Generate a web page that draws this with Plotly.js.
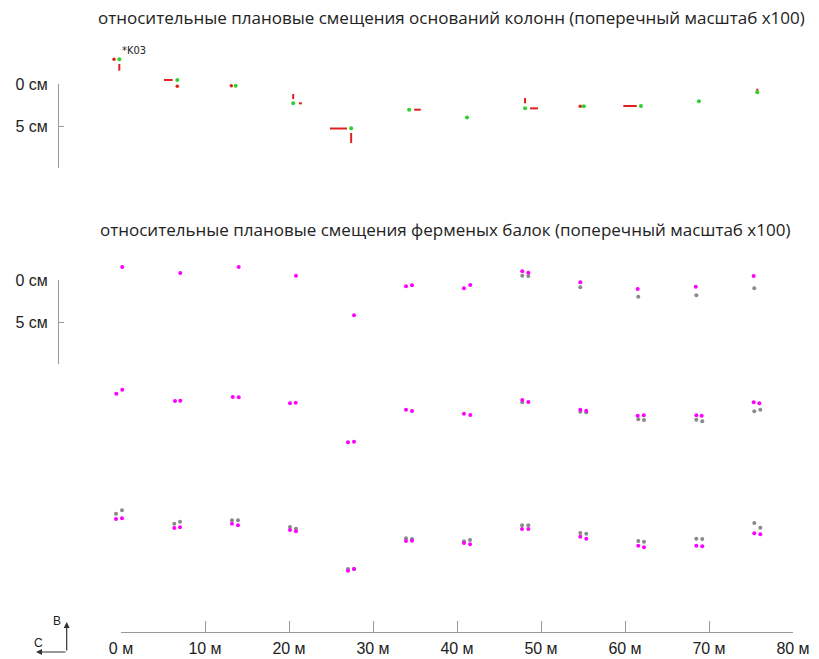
<!DOCTYPE html>
<html><head><meta charset="utf-8">
<script src="https://cdn.plot.ly/plotly-3.0.1.min.js"></script>
<style>html,body{margin:0;padding:0;background:#fff}#c{width:819px;height:659px}</style>
</head><body><div id="c"></div>
<script>
// ---- data (x in m, y in cm; beam rows relative to their own baseline) ----
const colX = [-0.2, 6.7, 13.65, 20.5, 27.4, 34.3, 41.2, 48.1, 55.1, 61.9, 68.8, 75.75];
const colY = [-2.94, -0.48, 0.2, 2.3, 5.27, 3.06, 4.0, 2.9, 2.65, 2.62, 2.06, 0.99];
const colLabel = '*K03';
// red displacement segments (absolute, x m / y cm)
const redSegX0 = [-0.2, 5.12, 20.5, 21.18, 24.88, 27.4, 34.9, 48.1, 48.7, 59.8, 75.75];
const redSegX1 = [-0.2, 6.15, 20.5, 21.54, 26.9, 27.4, 35.69, 48.1, 49.65, 61.4, 75.75];
const redSegY0 = [-2.38, -0.48, 1.19, 2.3, 5.3, 5.83, 3.06, 1.67, 2.9, 2.62, 0.56];
const redSegY1 = [-1.58, -0.48, 1.8, 2.3, 5.3, 7.02, 3.06, 2.3, 2.9, 2.62, 0.95];
const redDotX = [-0.83, 6.7, 13.13, 54.67];
const redDotY = [-2.94, 0.27, 0.2, 2.65];

const row1X = [0.15, 7.06, 14.01, 20.83, 27.74, 33.93, 34.64, 40.83, 41.58, 47.77, 48.49, 54.68, 61.51, 68.42, 75.32];
const row1Y = [-1.55, -0.83, -1.55, -0.51, 4.20, 0.75, 0.63, 0.99, 0.60, -1.04, -0.87, 0.27, 1.07, 0.80, -0.48];
const row1GX = [47.77, 48.49, 54.68, 61.58, 68.49, 75.39];
const row1GY = [-0.51, -0.48, 0.87, 1.99, 1.82, 0.99];

const row2X = [-0.56, 0.155, 6.43, 7.06, 13.30, 14.01, 20.12, 20.80, 27.02, 27.74, 33.93, 34.64, 40.83, 41.58, 47.77, 48.49, 54.68, 55.39, 61.51, 62.23, 68.49, 69.13, 75.32, 75.99];
const row2Y = [-1.46, -1.94, -0.60, -0.63, -1.07, -1.04, -0.32, -0.39, 4.32, 4.25, 0.44, 0.60, 0.92, 1.07, -0.71, -0.48, 0.44, 0.56, 1.15, 1.11, 1.11, 1.15, -0.44, -0.32];
const row2GX = [47.77, 54.68, 55.39, 61.58, 62.26, 68.49, 69.20, 75.39, 76.11];
const row2GY = [-0.44, 0.68, 0.75, 1.58, 1.67, 1.63, 1.82, 0.63, 0.44];

const row3X = [-0.595, 0.119, 6.345, 7.024, 13.21, 13.93, 20.12, 20.83, 27.02, 27.74, 33.93, 34.64, 40.83, 41.55, 47.74, 48.49, 54.68, 55.39, 61.58, 62.26, 68.49, 69.20, 75.39, 76.11];
const row3Y = [-1.55, -1.63, -0.48, -0.56, -0.99, -0.80, -0.24, -0.08, 4.61, 4.40, 1.07, 1.04, 1.31, 1.46, -0.36, -0.36, 0.56, 0.80, 1.63, 1.82, 1.63, 1.70, 0.15, 0.27];
const row3GY = [-2.18, -2.58, -0.99, -1.23, -1.39, -1.39, -0.60, -0.39, 4.40, 4.40, 0.75, 0.83, 1.11, 0.95, -0.80, -0.80, 0.12, 0.20, 1.07, 1.15, 0.80, 0.83, -1.07, -0.51];

const xTicks = [0, 10, 20, 30, 40, 50, 60, 70, 80];
const xTickText = ['0 м', '10 м', '20 м', '30 м', '40 м', '50 м', '60 м', '70 м', '80 м'];
const yTicks = [0, 5];
const yTickText = ['0 см', '5 см'];
const title1 = 'относительные плановые смещения оснований колонн (поперечный масштаб x100)';
const title2 = 'относительные плановые смещения ферменых балок (поперечный масштаб x100)';

// ---- layout geometry ----
const W = 819, H = 659;
const X0PX = 121, PXM = 8.4, Y0PX = 84;
const rowOffset = [23.333, 38.333, 53.333];
const px = v => v / W, py = v => 1 - v / H;

const GREEN = '#2ed12e', RED = '#e0201e', MAG = '#ff00ff', GRAY = '#8a8a8a';
const off = (arr, o) => arr.map(v => v + o);

const segX = [], segY = [];
redSegX0.forEach((x, i) => { segX.push(x, redSegX1[i], null); segY.push(redSegY0[i], redSegY1[i], null); });

const traces = [
  {x: segX, y: segY, mode: 'lines', line: {color: RED, width: 2}},
  {x: redDotX, y: redDotY, mode: 'markers', marker: {color: RED, size: 3.5}},
  {x: colX, y: colY, mode: 'markers', marker: {color: GREEN, size: 4}},
  {x: row1GX, y: off(row1GY, rowOffset[0]), mode: 'markers', marker: {color: GRAY, size: 4}},
  {x: row2GX, y: off(row2GY, rowOffset[1]), mode: 'markers', marker: {color: GRAY, size: 4}},
  {x: row3X, y: off(row3GY, rowOffset[2]), mode: 'markers', marker: {color: GRAY, size: 4}},
  {x: row1X, y: off(row1Y, rowOffset[0]), mode: 'markers', marker: {color: MAG, size: 4}},
  {x: row2X, y: off(row2Y, rowOffset[1]), mode: 'markers', marker: {color: MAG, size: 4}},
  {x: row3X, y: off(row3Y, rowOffset[2]), mode: 'markers', marker: {color: MAG, size: 4}},
  {x: [null], y: [null], xaxis: 'x2', yaxis: 'y2', mode: 'markers'},
  {x: [null], y: [null], xaxis: 'x2', yaxis: 'y3', mode: 'markers'}
].map(t => Object.assign({showlegend: false, hoverinfo: 'skip', cliponaxis: false}, t));

const axFont = {family: 'Liberation Sans, Arial, sans-serif', size: 16, color: '#222'};
const yBar = (lo, hi) => ({
  domain: [py(hi), py(lo)], range: [10, 0], anchor: 'free', position: px(58), side: 'left',
  showline: true, linecolor: '#9a9a9a', linewidth: 1, ticks: 'inside', ticklen: 5, tickcolor: '#9a9a9a',
  tickmode: 'array', tickvals: yTicks, ticktext: yTickText, ticklabelstandoff: 7,
  showgrid: false, zeroline: false, tickfont: axFont, fixedrange: true
});
const txt = (x, y, text, size, family) => ({xref: 'paper', yref: 'paper', x: px(x), y: py(y), text: text,
  showarrow: false, xanchor: 'center', yanchor: 'middle', font: {family: family, size: size, color: '#222'}});

const layout = {
  width: W, height: H, margin: {l: 0, r: 0, t: 0, b: 0},
  paper_bgcolor: '#fff', plot_bgcolor: 'rgba(0,0,0,0)', showlegend: false,
  xaxis: {range: [-X0PX / PXM, (W - X0PX) / PXM], visible: false, fixedrange: true},
  yaxis: {range: [(H - Y0PX) / PXM, -Y0PX / PXM], visible: false, fixedrange: true},
  xaxis2: {domain: [px(X0PX), px(X0PX + 80 * PXM)], range: [0, 80], anchor: 'free', position: 1 - 632 / H,
    showline: true, linecolor: '#9a9a9a', linewidth: 1, ticks: 'inside', ticklen: 11, tickcolor: '#9a9a9a',
    tickmode: 'array', tickvals: xTicks, ticktext: xTickText, ticklabelstandoff: 2,
    showgrid: false, zeroline: false, tickfont: axFont, fixedrange: true},
  yaxis2: yBar(84, 168),
  yaxis3: yBar(280, 364),
  annotations: [
    txt(451, 18, title1, 17, 'Open Sans, sans-serif'),
    txt(445, 229, title2, 17, 'Open Sans, sans-serif'),
    {x: colX[0], y: colY[0], text: colLabel, showarrow: false, xanchor: 'left', yanchor: 'middle', xshift: 1, yshift: 9,
     font: {family: 'DejaVu Sans Condensed, Liberation Sans, sans-serif', size: 11, color: '#222'}},
    {xref: 'paper', yref: 'paper', x: px(66.7), y: py(622), ax: 0, ay: 30, text: '', showarrow: true,
     arrowhead: 2, arrowsize: 1, arrowwidth: 1.2, arrowcolor: '#333'},
    {xref: 'paper', yref: 'paper', x: px(36), y: py(652), ax: 31, ay: 0, text: '', showarrow: true,
     arrowhead: 2, arrowsize: 1, arrowwidth: 1.2, arrowcolor: '#333'},
    txt(57, 621, 'В', 12, 'Liberation Sans, Arial, sans-serif'),
    txt(38, 643, 'С', 12, 'Liberation Sans, Arial, sans-serif')
  ]
};

Plotly.newPlot('c', traces, layout, {staticPlot: true, displayModeBar: false});
</script></body></html>
